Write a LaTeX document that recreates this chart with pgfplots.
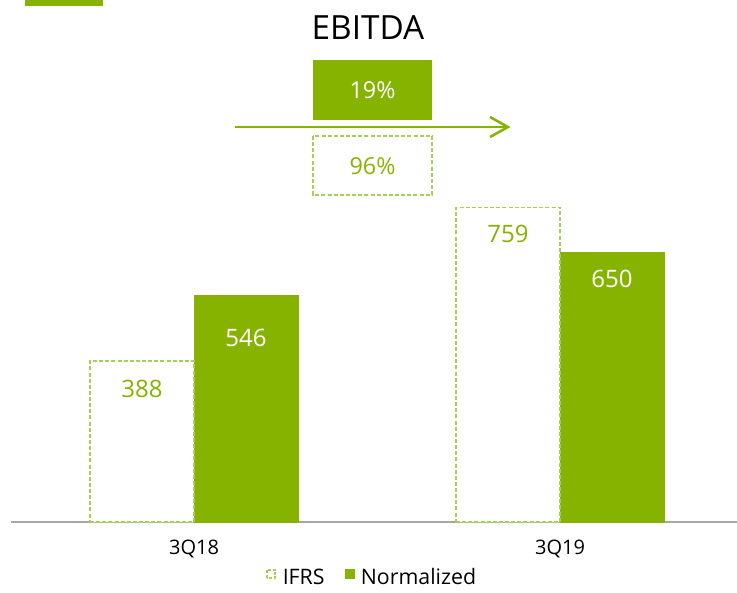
\documentclass[border=0pt]{standalone}
\usepackage{pgfplots}
\pgfplotsset{compat=1.18}
\usepackage{fontspec}
\setmainfont{Open Sans}
\definecolor{ngreen}{HTML}{86B300}
\definecolor{lgreen}{HTML}{A6CF55}
\begin{document}
\begin{tikzpicture}
\useasboundingbox (0,0) rectangle (552.75pt,444pt);
\begin{axis}[
  at={(8.25pt,52.5pt)}, anchor=south west,
  scale only axis, width=544.5pt, height=391.5pt,
  xmin=-0.5, xmax=1.4836, ymin=0, ymax=1259,
  axis x line*=bottom, axis y line=none,
  x axis line style={draw=black!35, line width=1.1pt, -},
  xtick={0,1}, xticklabels={3Q18,3Q19}, major tick length=0pt,
  xticklabel style={font=\fontsize{15}{18}\selectfont, anchor=base, yshift=-24pt, inner sep=0pt},
  ytick=\empty,
  ybar=0pt, bar width=78pt,
  clip=false,
  legend columns=2,
  legend style={at={(0.496,-0.107)}, anchor=center, draw=none, fill=none,
    inner sep=0pt, font=\fontsize{16}{19}\selectfont,
    nodes={inner sep=0pt},
    /tikz/every odd column/.append style={column sep=5pt},
    /tikz/every even column/.append style={column sep=15pt}},
]
\addplot[bar shift=-39pt, fill=white, draw=lgreen, dash pattern=on 3pt off 1.6pt, line width=1.1pt,
  legend image code/.code={\draw[lgreen, dash pattern=on 2.2pt off 1.2pt, line width=1.5pt, fill=white] (0.4pt,0.1pt) rectangle (6.4pt,6.1pt);}]
  coordinates {(0,388) (1,759)};
\addlegendentry{IFRS}
\addplot[bar shift=39pt, fill=ngreen, draw=ngreen,
  legend image code/.code={\fill[ngreen] (0pt,-0.3pt) rectangle (6.8pt,6.5pt);}]
  coordinates {(0,546) (1,650)};
\addlegendentry{Normalized}
\addplot[forget plot, bar shift=-39pt, fill=none, draw=lgreen, dash pattern=on 3pt off 1.6pt, line width=1.1pt]
  coordinates {(0,388) (1,759)};
\node[ngreen, font=\fontsize{18}{22}\selectfont] at (axis cs:0,388) [xshift=-39pt, yshift=-21pt] {388};
\node[white, font=\fontsize{18}{22}\selectfont] at (axis cs:0,546) [xshift=39pt, yshift=-32pt] {546};
\node[ngreen, font=\fontsize{18}{22}\selectfont] at (axis cs:1,759) [xshift=-39pt, yshift=-20pt] {759};
\node[white, font=\fontsize{18}{22}\selectfont] at (axis cs:1,650) [xshift=39pt, yshift=-20pt] {650};
\end{axis}
\begin{scope}[x=0.75pt, y=-0.75pt, shift={(0pt,444pt)}]
  \fill[ngreen] (25,0) rectangle (103,6);
  \node[font=\fontsize{25}{30}\selectfont, inner sep=0pt] at (368,27.5) {EBITDA};
  \fill[ngreen] (313,60) rectangle (432,120);
  \node[white, font=\fontsize{17.5}{21}\selectfont, inner sep=0pt] at (372.5,90) {19\%};
  \draw[ngreen, line width=1.9pt] (235,127) -- (507,127);
  \draw[ngreen, line width=1.9pt, line join=miter] (490,117) -- (508,127) -- (490,137);
  \draw[lgreen, dash pattern=on 3pt off 1.6pt, line width=1.1pt] (313,136) rectangle (432,195);
  \node[ngreen, font=\fontsize{17.5}{21}\selectfont, inner sep=0pt] at (372.5,166) {96\%};
\end{scope}
\end{tikzpicture}
\end{document}
